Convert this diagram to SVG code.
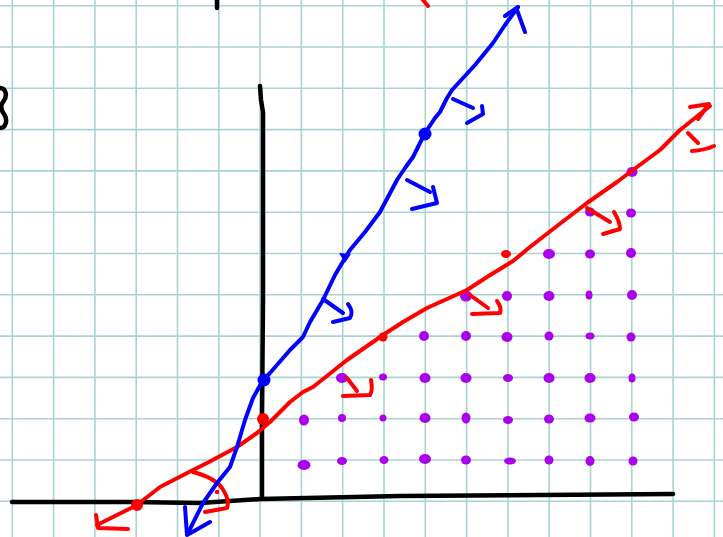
<svg xmlns="http://www.w3.org/2000/svg" width="723" height="537" viewBox="0 0 723 537">
<style>
.grid{stroke:#a9d3d3;stroke-width:1.6;fill:none}
.blk{stroke:#000;stroke-width:4.5;fill:none;stroke-linecap:round;stroke-linejoin:round}
.blu{stroke:#0000ff;stroke-width:4;fill:none;stroke-linecap:round;stroke-linejoin:round}
.red{stroke:#ff0000;stroke-width:4;fill:none;stroke-linecap:round;stroke-linejoin:round}
.bd{fill:#0000ff}
.rd{fill:#ff0000}
.pd{fill:#aa00ee}
</style>
<rect width="723" height="537" fill="#ffffff"/>
<g id="grid">
<path class="grid" d="M12.3,0V537M53.6,0V537M94.9,0V537M136.2,0V537M177.5,0V537M218.8,0V537M260.1,0V537M301.4,0V537M342.7,0V537M384,0V537M425.3,0V537M466.6,0V537M507.9,0V537M549.2,0V537M590.5,0V537M631.8,0V537M673.1,0V537M714.4,0V537"/>
<path class="grid" d="M0,5.7H723M0,47H723M0,88.3H723M0,129.6H723M0,170.9H723M0,212.2H723M0,253.5H723M0,294.8H723M0,336.1H723M0,377.4H723M0,418.7H723M0,460H723M0,501.3H723"/>
</g>
<g id="axes">
<path class="blk" d="M260,86 L261,100 L263,112 L263,300 L262,420 L262,498"/>
<path class="blk" d="M12,502 L130,502 L200,503 L260,499 L400,496 L673,494"/>
<path class="blk" d="M217,0 L217,8"/>
<path class="blk" d="M0,88 C6,88 8,96 3,102 C0,106 1,110 4,114 C8,120 6,128 0,128"/>
</g>
<g id="dots">
<ellipse class="pd" cx="632" cy="172" rx="5.5" ry="5"/>
<ellipse class="pd" cx="590" cy="212" rx="5" ry="4.5"/>
<ellipse class="pd" cx="631" cy="213" rx="5" ry="4.5"/>
<ellipse class="pd" cx="549" cy="254" rx="6" ry="5"/>
<ellipse class="pd" cx="590" cy="254" rx="5" ry="4.5"/>
<ellipse class="pd" cx="631" cy="253" rx="5" ry="5"/>
<ellipse class="pd" cx="466" cy="296" rx="6" ry="5.5"/>
<ellipse class="pd" cx="507" cy="296" rx="5" ry="5"/>
<ellipse class="pd" cx="549" cy="296" rx="5.5" ry="5"/>
<ellipse class="pd" cx="589" cy="295" rx="3.5" ry="4.5"/>
<ellipse class="pd" cx="632" cy="295" rx="5" ry="5"/>
<ellipse class="pd" cx="424" cy="336" rx="5" ry="5"/>
<ellipse class="pd" cx="466" cy="336" rx="5" ry="5"/>
<ellipse class="pd" cx="507" cy="337" rx="5.5" ry="5"/>
<ellipse class="pd" cx="549" cy="336" rx="4.5" ry="4.5"/>
<ellipse class="pd" cx="590" cy="336" rx="4.5" ry="3.5"/>
<ellipse class="pd" cx="631" cy="337" rx="4.5" ry="4.5"/>
<ellipse class="pd" cx="342" cy="378" rx="6" ry="5"/>
<ellipse class="pd" cx="383" cy="377" rx="4" ry="3.5"/>
<ellipse class="pd" cx="425" cy="378" rx="5.5" ry="5"/>
<ellipse class="pd" cx="466" cy="378" rx="5.5" ry="5"/>
<ellipse class="pd" cx="508" cy="378" rx="5" ry="4"/>
<ellipse class="pd" cx="549" cy="378" rx="5.5" ry="5"/>
<ellipse class="pd" cx="590" cy="378" rx="5.5" ry="5"/>
<ellipse class="pd" cx="632" cy="378" rx="3.5" ry="4.5"/>
<ellipse class="pd" cx="304" cy="420" rx="5" ry="5.5"/>
<ellipse class="pd" cx="342" cy="418" rx="4" ry="4"/>
<ellipse class="pd" cx="383" cy="418" rx="3.5" ry="3.5"/>
<ellipse class="pd" cx="425" cy="418" rx="5.5" ry="5"/>
<ellipse class="pd" cx="466" cy="418" rx="4.5" ry="5.5"/>
<ellipse class="pd" cx="508" cy="420" rx="5" ry="4"/>
<ellipse class="pd" cx="549" cy="419" rx="5" ry="4.5"/>
<ellipse class="pd" cx="590" cy="418" rx="5.5" ry="4.5"/>
<ellipse class="pd" cx="634" cy="417" rx="5" ry="4.5"/>
<ellipse class="pd" cx="304" cy="465" rx="6.5" ry="5"/>
<ellipse class="pd" cx="342" cy="461" rx="5" ry="4"/>
<ellipse class="pd" cx="384" cy="460" rx="4.5" ry="4"/>
<ellipse class="pd" cx="425" cy="459" rx="6" ry="5"/>
<ellipse class="pd" cx="466" cy="460" rx="5" ry="4.5"/>
<ellipse class="pd" cx="510" cy="461" rx="6" ry="3.5"/>
<ellipse class="pd" cx="549" cy="460" rx="4.5" ry="4.5"/>
<ellipse class="pd" cx="590" cy="461" rx="4.5" ry="5"/>
<ellipse class="pd" cx="633" cy="461" rx="4.5" ry="4.5"/>
</g>
<g id="connectors">
<g id="red-line">
<path class="red" d="M710,106 L680,130 L660,150 L637,167 L617,182 L587,203 L557,226 L530,247 L513,261 L487,277 L467,290 L427,308 L403,322 L383,335 L347,360 L313,387 L303,392 L290,402 L270,422 L257,433 L237,447 L207,463 L193,470 L160,487 L137,505 L97,525"/>
<path class="red" d="M690,107 L709,104 L698,119"/>
<path class="red" d="M96,515 L98,528 L128,529"/>
<circle class="rd" cx="137" cy="505" r="6"/>
<circle class="rd" cx="263" cy="419" r="6"/>
<circle class="rd" cx="383" cy="337" r="4.5"/>
<ellipse class="rd" cx="506" cy="254" rx="5" ry="4"/>
<path class="red" d="M193,472 Q215,478 222,488 Q230,500 227,508 L205,512"/>
<circle class="rd" cx="217" cy="492" r="2.2"/>
<path class="red" d="M347,378 L357,391 M371,380 Q373,390 370,395 L343,396"/>
<path class="red" d="M470,295 L488,308 M497,301 Q502,308 500,313 L472,314"/>
<path class="red" d="M587,208 L610,222 M614,212 Q620,222 620,229 L603,234"/>
<path class="red" d="M688,133 L698,143 M692,151 Q705,150 714,146"/>
<path class="red" d="M423,0 L428,6"/>
</g>
<g id="blue-line">
<path class="blu" d="M518,7 L505,25 L493,43 L475,65 L452,90 L447,98 L440,112 L435,118 L425,133 L413,157 L405,168 L397,180 L380,212 L365,232 L350,250 L345,258 L335,275 L323,300 L310,322 L303,337 L290,350 L270,373 L263,380 L253,398 L245,420 L237,447 L230,467 L217,483 L203,503 L188,533"/>
<path class="blu" d="M505,16 L518,7 M517,10 L525,32"/>
<path class="blu" d="M185,507 L187,535 L210,522"/>
<circle class="bd" cx="425" cy="134" r="6.5"/>
<circle class="bd" cx="264" cy="380" r="6.5"/>
<polygon class="bd" points="339,253 351,254 345,263"/>
<path class="blu" d="M453,99 L473,108 M482,106 L483,114 L467,123"/>
<path class="blu" d="M407,180 L430,192 M433,187 L437,203 L412,209"/>
<path class="blu" d="M323,299 L343,313 M348,304 Q354,312 350,318 L333,322"/>
</g>
</g>
</svg>
